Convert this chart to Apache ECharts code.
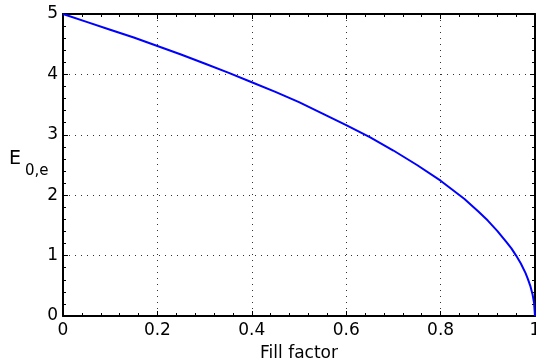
<!DOCTYPE html>
<html><head><meta charset="utf-8">
<script src="https://cdn.jsdelivr.net/npm/echarts@6/dist/echarts.min.js"></script>
<style>html,body{margin:0;padding:0;background:#fff}#c{width:536px;height:362px}</style>
</head><body><div id="c"></div>
<script>
const fillFactor = [0, 0.05, 0.1, 0.15, 0.2, 0.25, 0.3, 0.35, 0.4, 0.45, 0.5, 0.55, 0.6, 0.65, 0.7, 0.75, 0.8, 0.85, 0.88, 0.9, 0.92, 0.94, 0.95, 0.96, 0.97, 0.98, 0.985, 0.99, 0.995, 0.998, 1];
const energy = [5, 4.87, 4.74, 4.61, 4.47, 4.33, 4.18, 4.03, 3.87, 3.71, 3.54, 3.35, 3.16, 2.96, 2.74, 2.5, 2.24, 1.94, 1.73, 1.58, 1.41, 1.22, 1.12, 1.0, 0.87, 0.71, 0.61, 0.5, 0.35, 0.22, 0];
const xTicks = ['0', '0.2', '0.4', '0.6', '0.8', '1'];
const yTicks = ['0', '1', '2', '3', '4', '5'];
const yTitleMain = 'E';
const yTitleSub = '0,e';

const font = 'DejaVu Sans';
const chart = echarts.init(document.getElementById('c'));
const base = () => ({
  axisLine: {show: true, onZero: false, lineStyle: {color: '#000', width: 2}},
  axisTick: {show: true, inside: true, length: 5, lineStyle: {color: '#000', width: 1}},
  minorTick: {show: true, splitNumber: 5, length: 3, lineStyle: {color: '#000', width: 1}},
});
chart.setOption({
  animation: false,
  grid: {left: 63, right: 1, top: 14, bottom: 46, containLabel: false, outerBoundsMode: 'none'},
  graphic: [
    {type: 'text', left: 9, top: 150, style: {text: yTitleMain, fontFamily: font, fontSize: 19, fill: '#000'}},
    {type: 'text', left: 25, top: 164, style: {text: yTitleSub, fontFamily: font, fontSize: 15, fill: '#000'}}
  ],
  xAxis: [
    Object.assign(base(), {
      type: 'value', min: 0, max: 1, interval: 0.2, position: 'bottom',
      axisLabel: {color: '#000', fontFamily: font, fontSize: 17, margin: 6,
        formatter: v => xTicks[Math.round(v / 0.2)]},
      splitLine: {show: true, lineStyle: {color: '#333', width: 1, type: [1, 5]}},
      name: 'Fill factor', nameLocation: 'middle', nameGap: 29,
      nameTextStyle: {color: '#000', fontFamily: font, fontSize: 17}
    }),
    Object.assign(base(), {
      type: 'value', min: 0, max: 1, interval: 0.2, position: 'top',
      axisLabel: {show: false}, splitLine: {show: false}
    })
  ],
  yAxis: [
    Object.assign(base(), {
      type: 'value', min: 0, max: 5, interval: 1, position: 'left',
      axisLabel: {color: '#000', fontFamily: font, fontSize: 17, margin: 5,
        formatter: v => yTicks[Math.round(v)]},
      splitLine: {show: true, lineStyle: {color: '#333', width: 1, type: [1, 5]}}
    }),
    Object.assign(base(), {
      type: 'value', min: 0, max: 5, interval: 1, position: 'right',
      axisLabel: {show: false}, splitLine: {show: false}
    })
  ],
  series: [{
    type: 'line', xAxisIndex: 0, yAxisIndex: 0, showSymbol: false, smooth: false,
    data: fillFactor.map((x, i) => [x, energy[i]]),
    lineStyle: {color: '#0000ff', width: 2}, clip: false
  }]
});
</script></body></html>
